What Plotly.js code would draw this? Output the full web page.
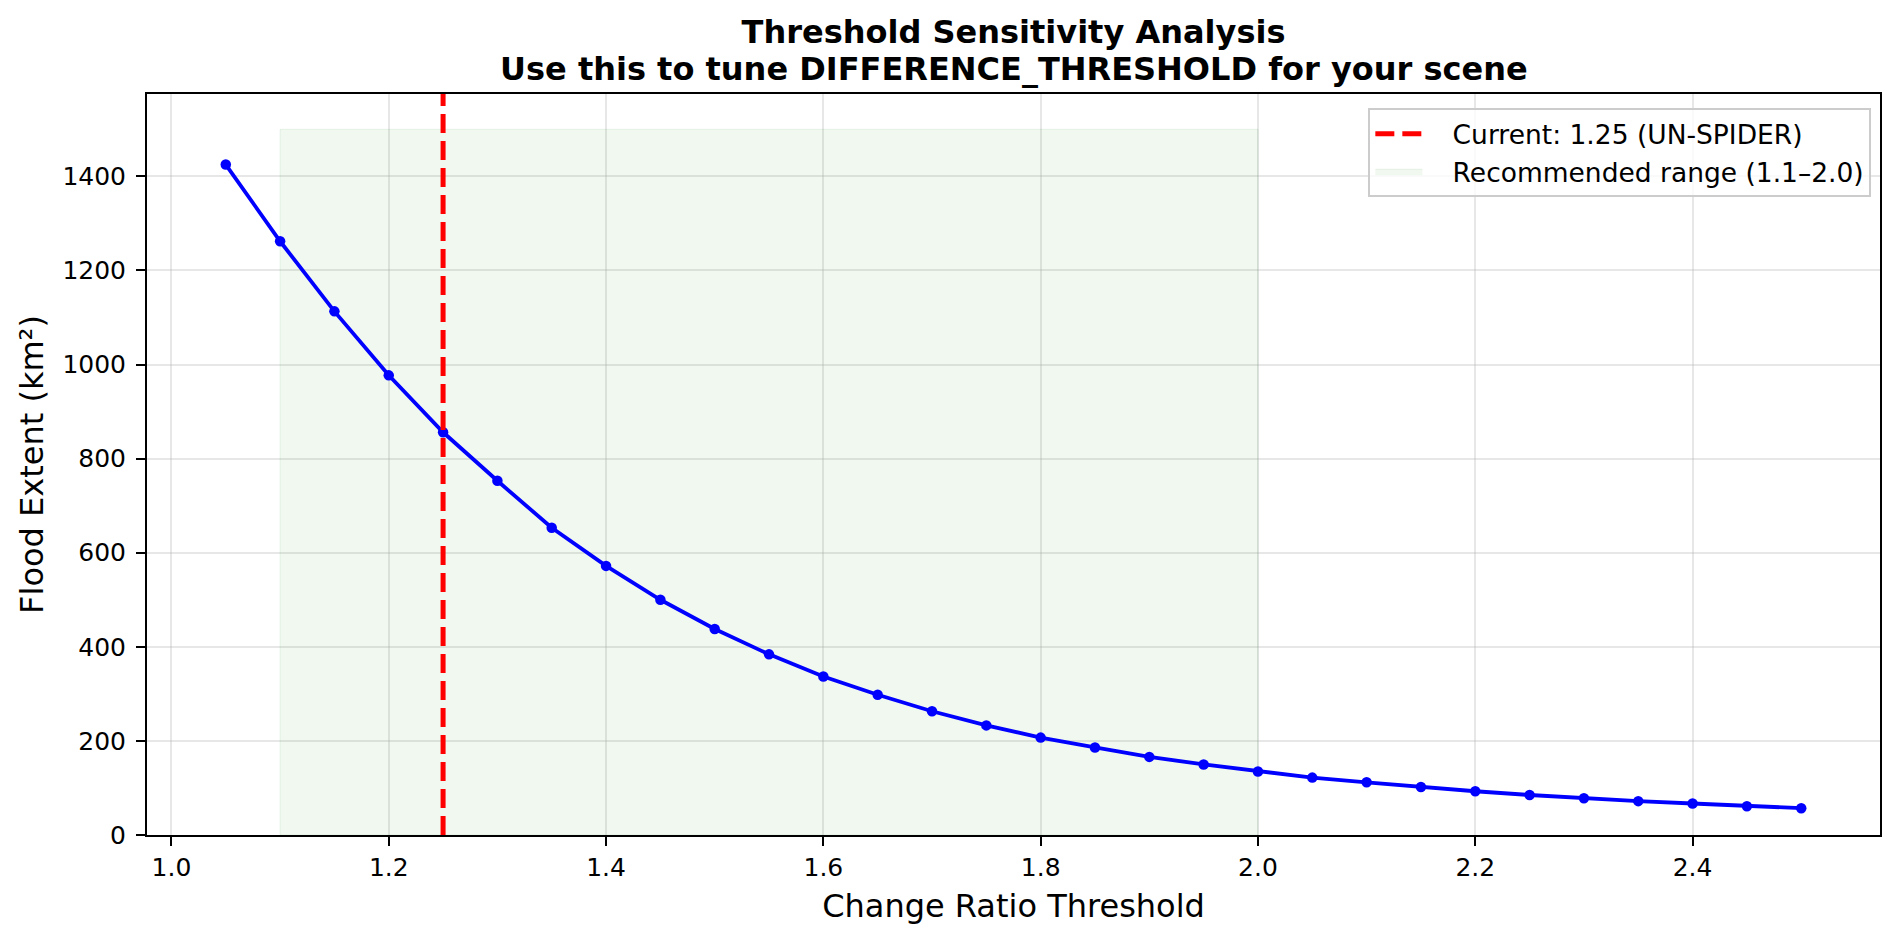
<!DOCTYPE html>
<html>
<head>
<meta charset="utf-8">
<script src="https://cdn.plot.ly/plotly-3.0.1.min.js"></script>
<style>html,body{margin:0;padding:0;background:#fff;}#chart{width:1901px;height:942px;}</style>
</head>
<body>
<div id="chart"></div>
<script>
// Data
const thresholds = [1.05,1.10,1.15,1.20,1.25,1.30,1.35,1.40,1.45,1.50,1.55,1.60,1.65,1.70,1.75,1.80,1.85,1.90,1.95,2.00,2.05,2.10,2.15,2.20,2.25,2.30,2.35,2.40,2.45,2.50];
const floodExtent = [1425,1262,1113,977,856,753,653,572,500,438,384,337,298,263,233,207,186,166,150,135,122,112,102,93,85,78,72,67,61,57];
const currentThreshold = 1.25;
const currentLabel = 'Current: 1.25 (UN-SPIDER)';
const rangeLow = 1.1;
const rangeHigh = 2.0;
const rangeTop = 1500;
const rangeLabel = 'Recommended range (1.1–2.0)';
const titleLine1 = 'Threshold Sensitivity Analysis';
const titleLine2 = 'Use this to tune DIFFERENCE_THRESHOLD for your scene';
const xTickVals = [1.0,1.2,1.4,1.6,1.8,2.0,2.2,2.4];
const yTickVals = [0,200,400,600,800,1000,1200,1400];

const xRange = [0.9775, 2.5725];
const yRange = [0, 1575];
const FONT = 'DejaVu Sans';
const GAP = '\u00a0\u00a0\u00a0';

const traces = [
  {
    x: [rangeLow, rangeHigh, rangeHigh, rangeLow, rangeLow],
    y: [0, 0, rangeTop, rangeTop, 0],
    type: 'scatter', mode: 'lines', fill: 'toself',
    fillcolor: 'rgba(0,128,0,0.06)',
    line: {color: 'rgba(0,128,0,0.08)', width: 1},
    name: GAP + rangeLabel, legendrank: 2, hoverinfo: 'skip'
  },
  {
    x: thresholds, y: floodExtent,
    type: 'scatter', mode: 'lines+markers',
    line: {color: '#0000ff', width: 3.8},
    marker: {color: '#0000ff', size: 10.5},
    showlegend: false
  },
  {
    x: [currentThreshold, currentThreshold], y: yRange,
    type: 'scatter', mode: 'lines',
    line: {color: '#ff0000', width: 5, dash: '19px,8px'},
    name: GAP + currentLabel, legendrank: 1, hoverinfo: 'skip'
  }
];

const axisCommon = {
  showline: true, mirror: true, linecolor: '#000', linewidth: 2,
  ticks: 'outside', ticklen: 9, tickwidth: 2, tickcolor: '#000',
  showgrid: true, gridcolor: 'rgba(176,176,176,0.3)', gridwidth: 2,
  zeroline: false, automargin: false,
  tickfont: {family: FONT, size: 25, color: '#000'}
};

const titleFont = {family: FONT, size: 32, color: '#000', weight: 700};

const layout = {
  width: 1901, height: 942,
  paper_bgcolor: '#fff', plot_bgcolor: '#fff',
  margin: {l: 147, r: 21, t: 94, b: 107},
  title: {
    text: titleLine1,
    font: titleFont,
    x: 0.5, xref: 'paper', xanchor: 'center',
    y: 1 - 31.5/942, yref: 'container', yanchor: 'middle'
  },
  annotations: [{
    text: titleLine2, font: titleFont, showarrow: false,
    xref: 'paper', yref: 'paper', x: 0.5, xanchor: 'center',
    y: 1 + (94 - 69) / 741, yanchor: 'middle'
  }],
  xaxis: Object.assign({}, axisCommon, {
    range: xRange, tickvals: xTickVals, tickformat: '.1f',
    title: {text: 'Change Ratio Threshold', font: {family: FONT, size: 32, color: '#000'}, standoff: 14}
  }),
  yaxis: Object.assign({}, axisCommon, {
    range: yRange, tickvals: yTickVals, ticklabelstandoff: 5,
    title: {text: 'Flood Extent (km²)', font: {family: FONT, size: 32, color: '#000'}, standoff: 9}
  }),
  legend: {
    x: 0.995, y: 0.981, xanchor: 'right', yanchor: 'top',
    bgcolor: 'rgba(255,255,255,0.8)', bordercolor: '#cccccc', borderwidth: 2,
    font: {family: FONT, size: 26.5, color: '#000'},
    itemwidth: 47
  },
  showlegend: true
};

Plotly.newPlot('chart', traces, layout, {displayModeBar: false, staticPlot: true});
</script>
</body>
</html>
